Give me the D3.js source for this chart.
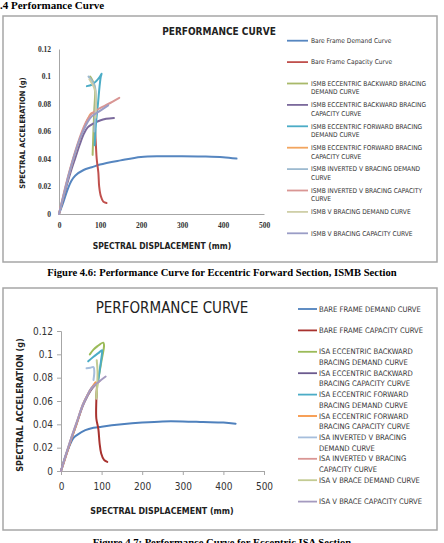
<!DOCTYPE html>
<html>
<head>
  <meta charset="utf-8">
  <title>Performance Curves</title>
  <script src="https://d3js.org/d3.v7.min.js"></script>
  <style>
    body { margin: 0; background: #fff; }
    svg { display: block; }
    .narrow { font-family: "Liberation Sans Narrow", "DejaVu Sans Condensed", sans-serif; }
    .serif { font-family: "Liberation Serif", "Times New Roman", serif; }
  </style>
</head>
<body>
  <svg id="page" width="444" height="543"></svg>

  <script>
    // ---- data: top figure (ISMB sections) ----
    const ismbLabels = [
      ['Bare Frame Demand Curve'],
      ['Bare Frame Capacity Curve'],
      ['ISMB ECCENTRIC BACKWARD BRACING', 'DEMAND CURVE'],
      ['ISMB ECCENTRIC BACKWARD BRACING', 'CAPACITY CURVE'],
      ['ISMB ECCENTRIC FORWARD BRACING', 'DEMAND CURVE'],
      ['ISMB ECCENTRIC FORWARD BRACING', 'CAPACITY CURVE'],
      ['ISMB INVERTED V BRACING DEMAND', 'CURVE'],
      ['ISMB INVERTED V BRACING CAPACITY', 'CURVE'],
      ['ISMB V BRACING DEMAND CURVE'],
      ['ISMB V BRACING CAPACITY CURVE']
    ];
    const ismbBareDemand = [[0,0],[10,0.008],[20,0.017],[30,0.024],[40,0.028],[60,0.032],[80,0.034],[100,0.036],[150,0.039],[200,0.0415],[250,0.042],[300,0.042],[350,0.0418],[400,0.0413],[433,0.0403]];
    const ismbBareCapacity = [[88,0.062],[90,0.05],[92,0.04],[96,0.03],[98,0.02],[102,0.013],[108,0.009],[116,0.008]];
    const ismbEcbDemand = [[82,0.043],[84,0.06],[86,0.075],[88,0.088],[86,0.094],[80,0.098],[76,0.1]];
    const ismbEcbCapacity = [[0,0],[10,0.011],[20,0.022],[30,0.032],[40,0.041],[50,0.05],[60,0.058],[70,0.063],[85,0.066],[100,0.068],[115,0.0692],[134,0.0698]];
    const ismbEfDemand = [[87,0.05],[90,0.065],[95,0.08],[99,0.093],[102,0.1],[104,0.102],[100,0.1],[92,0.097],[80,0.094],[68,0.093]];
    const ismbEfCapacity = [[0,0],[10,0.012],[20,0.024],[30,0.035],[40,0.045],[50,0.054],[60,0.062],[70,0.069],[78,0.073],[86,0.074]];
    const ismbInvVDemand = [[72,0.1],[80,0.097],[88,0.092],[90,0.085],[88,0.07],[86,0.06]];
    const ismbInvVCapacity = [[0,0],[10,0.013],[20,0.025],[30,0.036],[40,0.046],[50,0.055],[60,0.063],[70,0.069],[80,0.073],[100,0.077],[120,0.08],[147,0.0845]];
    const ismbVDemand = [[74,0.098],[82,0.094],[88,0.09],[90,0.08],[89,0.07]];
    const ismbVCapacity = [[0,0],[10,0.012],[20,0.024],[30,0.035],[40,0.045],[50,0.054],[60,0.061],[70,0.067],[80,0.071],[100,0.075],[120,0.079]];
    const ismbSeries = [ismbBareDemand, ismbBareCapacity, ismbEcbDemand, ismbEcbCapacity, ismbEfDemand,
      ismbEfCapacity, ismbInvVDemand, ismbInvVCapacity, ismbVDemand, ismbVCapacity];

    // ---- data: bottom figure (ISA sections) ----
    const isaLabels = [
      ['BARE FRAME DEMAND CURVE'],
      ['BARE FRAME CAPACITY CURVE'],
      ['ISA ECCENTRIC BACKWARD', 'BRACING DEMAND CURVE'],
      ['ISA ECCENTRIC BACKWARD', 'BRACING CAPACITY CURVE'],
      ['ISA ECCENTRIC FORWARD', 'BRACING DEMAND CURVE'],
      ['ISA ECCENTRIC FORWARD', 'BRACING CAPACITY CURVE'],
      ['ISA INVERTED V BRACING', 'DEMAND CURVE'],
      ['ISA INVERTED V BRACING', 'CAPACITY CURVE'],
      ['ISA V BRACE DEMAND CURVE'],
      ['ISA V BRACE CAPACITY CURVE']
    ];
    const isaBareDemand = [[0,0],[10,0.012],[20,0.021],[30,0.028],[40,0.031],[60,0.035],[80,0.037],[100,0.038],[150,0.04],[200,0.0415],[250,0.0425],[300,0.0425],[350,0.042],[400,0.0415],[430,0.0405]];
    const isaBareCapacity = [[89,0.075],[87,0.06],[87,0.045],[92,0.036],[95,0.024],[99,0.015],[106,0.0095],[114,0.0078]];
    const isaEcbDemand = [[71,0.1],[80,0.104],[90,0.107],[104,0.11],[106,0.108],[100,0.095],[95,0.085],[90,0.075],[87,0.063]];
    const isaEcbCapacity = [[0,0],[14,0.015],[25,0.027],[38,0.04],[54,0.056],[65,0.064],[75,0.07],[88,0.075]];
    const isaEfDemand = [[67,0.094],[80,0.098],[92,0.101],[101,0.1035],[100,0.098],[96,0.088],[92,0.078]];
    const isaEfCapacity = [[0,0],[14,0.015],[25,0.027],[38,0.04],[54,0.057],[65,0.065],[75,0.071],[85,0.076]];
    const isaInvVDemand = [[63,0.088],[72,0.0885],[80,0.089],[82,0.085],[80,0.078]];
    const isaInvVCapacity = [[0,0],[14,0.016],[25,0.028],[38,0.041],[54,0.057],[65,0.065],[75,0.071],[95,0.077]];
    const isaVDemand = [[88,0.095],[90,0.085],[89,0.072],[87,0.062]];
    const isaVCapacity = [[0,0],[14,0.016],[25,0.028],[38,0.041],[54,0.057],[65,0.065],[75,0.071],[95,0.077],[110,0.081]];
    const isaSeries = [isaBareDemand, isaBareCapacity, isaEcbDemand, isaEcbCapacity, isaEfDemand,
      isaEfCapacity, isaInvVDemand, isaInvVCapacity, isaVDemand, isaVCapacity];

    const xTicks = [0, 100, 200, 300, 400, 500];
    const yTicks = [0, 0.02, 0.04, 0.06, 0.08, 0.1, 0.12];

    // series colours (Excel 2007 palette + light tints)
    const ismbColors = ['#5686C0', '#C0504D', '#A9B96A', '#7B6A9C', '#4BACC6', '#F2A55F', '#9DBAD0', '#D99694', '#CFCFA8', '#9A9DC6'];
    const isaColors  = ['#4F81BD', '#A8322F', '#9BBB59', '#6B5A8E', '#4BACC6', '#F79646', '#A6BEDC', '#D99694', '#C3CB93', '#A49ABF'];

    const svg = d3.select('#page');

    // page text
    svg.append('text').attr('class', 'serif').attr('x', 0).attr('y', 9)
      .style('font-size', '11px').style('font-weight', 'bold').text('.4 Performance Curve');

    function drawChart(cfg) {
      // outer frame
      svg.append('rect').attr('x', cfg.frame[0]).attr('y', cfg.frame[1])
        .attr('width', cfg.frame[2]).attr('height', cfg.frame[3])
        .attr('fill', '#fff').attr('stroke', '#a6a6a6').attr('stroke-width', 1.5);

      const x = d3.scaleLinear().domain([0, 500]).range([cfg.plot.left, cfg.plot.right]);
      const y = d3.scaleLinear().domain([0, 0.12]).range([cfg.plot.bottom, cfg.plot.top]);

      const fmtY = d => d === 0 ? '0' : d3.format('.2~f')(d);

      const yAxis = svg.append('g')
        .attr('transform', `translate(${cfg.plot.left},0)`)
        .call(d3.axisLeft(y).tickValues(yTicks).tickFormat(fmtY).tickSize(cfg.tick).tickPadding(cfg.padY));
      const xAxis = svg.append('g')
        .attr('transform', `translate(0,${cfg.plot.bottom})`)
        .call(d3.axisBottom(x).tickValues(xTicks).tickSize(cfg.tick).tickPadding(cfg.padX));
      [yAxis, xAxis].forEach(g => {
        g.select('.domain').attr('stroke', '#a6a6a6');
        g.selectAll('.tick line').attr('stroke', '#a6a6a6');
        g.selectAll('.tick text').attr('class', cfg.tickClass)
          .style('font-size', cfg.tickSize).style('font-weight', cfg.tickWeight).attr('fill', '#333');
      });

      const line = d3.line().x(d => x(d[0])).y(d => y(d[1])).curve(d3.curveCatmullRom.alpha(0.5));
      cfg.series.forEach((s, i) => {
        svg.append('path').datum(s).attr('d', line)
          .attr('fill', 'none').attr('stroke', cfg.colors[i])
          .attr('stroke-width', 2).attr('stroke-linejoin', 'round').attr('stroke-linecap', 'round');
      });

      // titles
      svg.append('text').attr('class', 'narrow').attr('x', cfg.title.x).attr('y', cfg.title.y)
        .attr('text-anchor', 'middle').style('font-size', cfg.title.size).style('font-weight', cfg.title.weight)
        .attr('fill', '#222').text('PERFORMANCE CURVE');
      svg.append('text').attr('class', 'narrow').attr('x', cfg.xTitle.x).attr('y', cfg.xTitle.y)
        .attr('text-anchor', 'middle').style('font-size', cfg.xTitle.size).style('font-weight', 'bold')
        .attr('fill', '#222').text('SPECTRAL DISPLACEMENT (mm)');
      svg.append('text').attr('class', 'narrow')
        .attr('transform', `translate(${cfg.yTitle.x},${cfg.yTitle.y}) rotate(-90)`)
        .attr('text-anchor', 'middle').style('font-size', cfg.yTitle.size).style('font-weight', 'bold')
        .attr('fill', '#222').text('SPECTRAL ACCELERATION (g)');

      // legend
      const lg = cfg.legend;
      cfg.labels.forEach((lines, i) => {
        const ly = lg.y + i * lg.step;
        svg.append('line').attr('x1', lg.x1).attr('x2', lg.x2).attr('y1', ly).attr('y2', ly)
          .attr('stroke', cfg.colors[i]).attr('stroke-width', 1.8);
        lines.forEach((t, j) => {
          svg.append('text').attr('class', 'narrow').attr('x', lg.tx).attr('y', ly + j * lg.lineH)
            .attr('dy', '0.35em').style('font-size', lg.size).attr('fill', '#333').text(t);
        });
      });

      svg.append('text').attr('class', 'serif').attr('x', 222).attr('y', cfg.caption.y)
        .attr('text-anchor', 'middle').style('font-size', '10.6px').style('font-weight', 'bold')
        .text(cfg.caption.text);
    }

    drawChart({
      frame: [3, 16, 434, 246],
      plot: { left: 59, right: 264, top: 49, bottom: 214 },
      tick: 0, padX: 9, padY: 8,
      tickClass: 'serif', tickSize: '7.5px', tickWeight: 'bold',
      series: ismbSeries, colors: ismbColors, labels: ismbLabels,
      title: { x: 219, y: 35, size: '10px', weight: 'bold' },
      xTitle: { x: 162, y: 249, size: '8.5px' },
      yTitle: { x: 25, y: 133, size: '7.5px' },
      legend: { x1: 287, x2: 308, tx: 311, y: 40.7, step: 21.4, lineH: 8.5, size: '6.6px' },
      caption: { y: 276, text: 'Figure 4.6: Performance Curve for Eccentric Forward Section, ISMB Section' }
    });

    drawChart({
      frame: [3, 288, 434, 242],
      plot: { left: 61, right: 264, top: 331, bottom: 471 },
      tick: 4, padX: 8, padY: 4,
      tickClass: 'narrow', tickSize: '10px', tickWeight: 'normal',
      series: isaSeries, colors: isaColors, labels: isaLabels,
      title: { x: 172, y: 313, size: '15px', weight: 'normal' },
      xTitle: { x: 162, y: 514, size: '8.8px' },
      yTitle: { x: 23, y: 405, size: '9px' },
      legend: { x1: 298, x2: 317, tx: 319, y: 309, step: 21.4, lineH: 10.5, size: '7.6px' },
      caption: { y: 546, text: 'Figure 4.7: Performance Curve for Eccentric ISA Section' }
    });
  </script>
</body>
</html>
